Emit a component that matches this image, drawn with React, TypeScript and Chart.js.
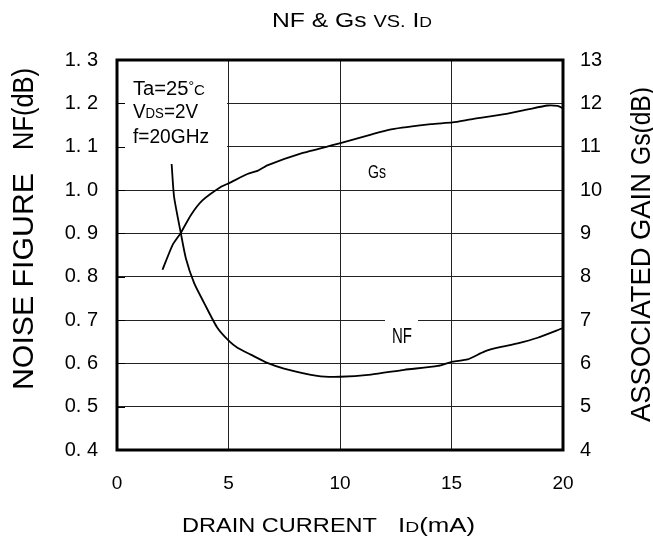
import React, { useEffect, useRef } from "react";
import { Chart, registerables } from "chart.js";

Chart.register(...registerables);

// ---- data ----
const nfCurrent = [2.45, 2.56, 2.86, 3.09, 3.46, 3.91, 4.5, 5.03, 5.4, 6.0, 6.74, 7.49, 8.98, 10.0, 11.39, 12.88, 14.38, 15.05, 15.72, 16.47, 17.07, 17.97, 18.86, 19.98];
const nfValues = [1.06, 0.984, 0.901, 0.842, 0.785, 0.739, 0.682, 0.651, 0.636, 0.62, 0.601, 0.588, 0.571, 0.569, 0.574, 0.585, 0.594, 0.604, 0.609, 0.627, 0.636, 0.646, 0.659, 0.681];
const gsCurrent = [2.04, 2.49, 2.86, 3.31, 3.83, 4.65, 5.03, 5.85, 6.3, 6.74, 8.23, 10.02, 11.39, 12.29, 14.08, 15.05, 15.87, 17.37, 18.42, 19.31, 19.76, 19.98];
const gsValues = [8.16, 8.73, 9.01, 9.42, 9.76, 10.07, 10.16, 10.37, 10.44, 10.57, 10.84, 11.08, 11.28, 11.4, 11.52, 11.56, 11.63, 11.75, 11.86, 11.95, 11.94, 11.89];

const xTickLabels = ["0", "5", "10", "15", "20"];
const nfTickLabels = ["0. 4", "0. 5", "0. 6", "0. 7", "0. 8", "0. 9", "1. 0", "1. 1", "1. 2", "1. 3"];
const gsTickLabels = ["4", "5", "6", "7", "8", "9", "10", "11", "12", "13"];

const FONT = "'Liberation Sans', Arial, sans-serif";

type Run = { t: string; s: number; dy?: number };

function drawRuns(
  ctx: CanvasRenderingContext2D,
  runs: Run[],
  x: number,
  y: number,
  width: number,
  angle = 0
) {
  ctx.save();
  let total = 0;
  for (const r of runs) {
    ctx.font = `${r.s}px ${FONT}`;
    total += ctx.measureText(r.t).width;
  }
  const sx = width ? width / total : 1;
  ctx.translate(x, y);
  ctx.rotate(angle);
  ctx.scale(sx, 1);
  ctx.textAlign = "left";
  ctx.textBaseline = "alphabetic";
  ctx.fillStyle = "#000";
  let cx = 0;
  for (const r of runs) {
    ctx.font = `${r.s}px ${FONT}`;
    ctx.fillText(r.t, cx, r.dy || 0);
    cx += ctx.measureText(r.t).width;
  }
  ctx.restore();
}

const decorPlugin = {
  id: "decor",
  beforeDatasetsDraw(chart: any) {
    const ctx: CanvasRenderingContext2D = chart.ctx;
    const a = chart.chartArea;
    const yScale = chart.scales.y;
    ctx.save();
    // white box behind the condition text
    ctx.fillStyle = "#fff";
    ctx.fillRect(a.left + 1, a.top + 1, 227 - a.left - 1, 155 - a.top);
    // white box behind NF label
    ctx.fillRect(385, 316, 33, 30);
    // inward tick marks on the left axis
    ctx.strokeStyle = "#000";
    ctx.lineWidth = 1;
    for (const t of yScale.ticks) {
      const py = Math.round(yScale.getPixelForValue(t.value)) + 0.5;
      ctx.beginPath();
      ctx.moveTo(a.left, py);
      ctx.lineTo(a.left + 8, py);
      ctx.stroke();
    }
    ctx.restore();
  },
  afterDraw(chart: any) {
    const ctx: CanvasRenderingContext2D = chart.ctx;
    const a = chart.chartArea;
    ctx.save();
    ctx.strokeStyle = "#000";
    ctx.lineWidth = 3;
    ctx.strokeRect(a.left, a.top, a.right - a.left, a.bottom - a.top);
    ctx.restore();

    // title
    drawRuns(ctx, [{ t: "NF & Gs ", s: 21 }, { t: "VS.", s: 17 }, { t: " I", s: 21 }, { t: "D", s: 15 }], 272, 27, 160);
    // x title
    drawRuns(ctx, [{ t: "DRAIN CURRENT", s: 20 }], 182, 532, 195);
    drawRuns(ctx, [{ t: "I", s: 20 }, { t: "D", s: 15 }, { t: "(mA)", s: 20 }], 398, 532, 77);
    // left title
    drawRuns(ctx, [{ t: "NOISE FIGURE", s: 30 }], 33, 390, 217, -Math.PI / 2);
    drawRuns(ctx, [{ t: "NF(dB)", s: 30 }], 33, 150, 82, -Math.PI / 2);
    // right title
    drawRuns(ctx, [{ t: "ASSOCIATED GAIN", s: 28 }], 650, 422, 249, -Math.PI / 2);
    drawRuns(ctx, [{ t: "Gs(dB)", s: 28 }], 650, 165, 78, -Math.PI / 2);
    // conditions
    drawRuns(ctx, [{ t: "Ta=25", s: 20 }, { t: "°", s: 14, dy: -4 }, { t: "C", s: 15 }], 133, 95, 72);
    drawRuns(ctx, [{ t: "V", s: 20 }, { t: "DS", s: 14 }, { t: "=2V", s: 20 }], 133, 118, 65);
    drawRuns(ctx, [{ t: "f=20GHz", s: 20 }], 133, 143, 76);
    // curve labels
    drawRuns(ctx, [{ t: "Gs", s: 19 }], 368, 178, 18);
    drawRuns(ctx, [{ t: "NF", s: 22 }], 392, 343, 20);
  },
};

export default function App() {
  const ref = useRef<HTMLCanvasElement | null>(null);

  useEffect(() => {
    if (!ref.current) return;
    const nfData = nfCurrent.map((x, i) => ({ x, y: nfValues[i] }));
    const gsData = gsCurrent.map((x, i) => ({ x, y: gsValues[i] }));
    const chart = new Chart(ref.current, {
      type: "line",
      data: {
        datasets: [
          {
            label: "NF",
            data: nfData,
            yAxisID: "y",
            borderColor: "#000",
            borderWidth: 1.8,
            pointRadius: 0,
            tension: 0.2,
            fill: false,
          },
          {
            label: "Gs",
            data: gsData,
            yAxisID: "y1",
            borderColor: "#000",
            borderWidth: 1.8,
            pointRadius: 0,
            tension: 0.2,
            fill: false,
          },
        ],
      },
      options: {
        responsive: false,
        animation: false,
        layout: { padding: { top: 60, left: 0, right: 0, bottom: 0 } },
        plugins: {
          legend: { display: false },
          title: { display: false },
          tooltip: { enabled: false },
        },
        scales: {
          x: {
            type: "linear",
            position: "bottom",
            min: 0,
            max: 20,
            ticks: {
              stepSize: 5,
              color: "#000",
              font: { family: FONT, size: 19 },
              padding: 22,
              maxRotation: 0,
              callback: (_v: any, i: number) => xTickLabels[i],
            },
            grid: { color: "#222", lineWidth: 1, drawTicks: false },
            border: { display: false },
            afterFit: (s: any) => {
              s.height = 91;
            },
          },
          y: {
            type: "linear",
            position: "left",
            min: 0.4,
            max: 1.3,
            ticks: {
              stepSize: 0.1,
              color: "#000",
              font: { family: FONT, size: 20 },
              padding: 19,
              callback: (_v: any, i: number) => nfTickLabels[i],
            },
            grid: { color: "#222", lineWidth: 1, drawTicks: false },
            border: { display: false },
            afterFit: (s: any) => {
              s.width = 117;
            },
          },
          y1: {
            type: "linear",
            position: "right",
            min: 4,
            max: 13,
            ticks: {
              stepSize: 1,
              color: "#000",
              font: { family: FONT, size: 20 },
              padding: 17,
              callback: (_v: any, i: number) => gsTickLabels[i],
            },
            grid: { display: false, drawTicks: false },
            border: { display: false },
            afterFit: (s: any) => {
              s.width = 90;
            },
          },
        },
      },
      plugins: [decorPlugin],
    } as any);
    return () => chart.destroy();
  }, []);

  return (
    <canvas
      ref={ref}
      width={653}
      height={541}
      style={{ position: "absolute", left: 0, top: 0 }}
    />
  );
}
